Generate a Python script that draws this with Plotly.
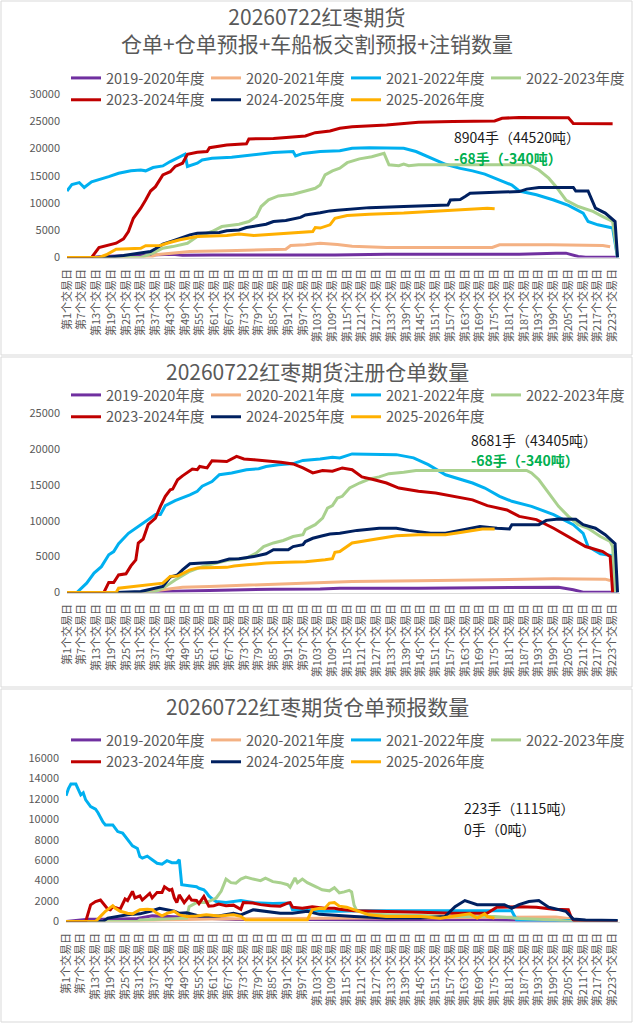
import plotly.graph_objects as go

# x axis: trading day index, one label every 6 days
tick_days = list(range(1, 224, 6))
tick_text = [f'第{d}个交易日' for d in tick_days]

seasons = ['2019-2020年度', '2020-2021年度', '2021-2022年度', '2022-2023年度',
           '2023-2024年度', '2024-2025年度', '2025-2026年度']
season_colors = ['#7030A0', '#F4B183', '#00B0F0', '#A9D18E', '#C00000', '#002060', '#FFB000']

# panel 1: 仓单+仓单预报+车船板交割预报+注销数量  (day, 手)
total_1920 = [(1, 0), (11, 0), (15, 200), (30, 400), (44, 610), (48, 400), (60, 480), (100, 480),
              (110, 450), (131, 610), (185, 610), (200, 780), (204, 800), (209, 200), (212, 60), (225, 50)]
total_2021 = [(1, 0), (35, 0), (37, 490), (46, 800), (51, 1100), (66, 1220), (90, 1530), (92, 2200),
              (98, 2320), (104, 2600), (111, 2400), (117, 2050), (131, 1830), (174, 1830), (177, 2320),
              (198, 2320), (219, 2200), (222, 1960)]
total_2122 = [(1, 12200), (3, 13400), (6, 13750), (8, 12850), (11, 13900), (14, 14250), (18, 14850),
              (22, 15450), (27, 15900), (31, 16050), (33, 15900), (36, 16500), (40, 16800), (43, 17600),
              (45, 18100), (49, 18950), (50, 16700), (54, 17300), (56, 17900), (60, 18200), (68, 18400),
              (74, 18700), (78, 18800), (85, 19250), (93, 19450), (94, 18650), (97, 19100), (104, 19450),
              (112, 19600), (117, 20050), (124, 20150), (138, 20050), (143, 19450), (148, 18500),
              (155, 17100), (161, 16350), (166, 15900), (171, 15300), (177, 14250), (182, 13300),
              (185, 12200), (192, 11500), (199, 10550), (205, 9550), (211, 8150), (213, 6600),
              (217, 6000), (223, 5400), (225, 0)]
total_2223 = [(1, 0), (31, 0), (36, 800), (40, 1700), (44, 2000), (50, 2600), (54, 3850), (60, 4770),
              (64, 5680), (71, 6110), (75, 6600), (78, 7520), (80, 9350), (83, 10570), (87, 11300),
              (93, 11600), (98, 12200), (102, 12700), (104, 13300), (106, 15150), (109, 15900),
              (112, 16400), (115, 17400), (120, 18100), (125, 18500), (130, 19100), (132, 17000),
              (136, 16850), (138, 17150), (140, 16850), (144, 17000), (189, 17000), (193, 16050),
              (197, 14550), (200, 13000), (204, 10550), (209, 9350), (215, 8450), (219, 7500),
              (223, 6600), (225, 0)]
total_2324 = [(1, 0), (11, 0), (14, 1830), (17, 2200), (21, 2630), (24, 3420), (26, 4770), (28, 7200),
              (31, 9050), (33, 10550), (35, 12200), (37, 13000), (40, 15150), (43, 15750), (45, 16700),
              (48, 17300), (50, 18950), (54, 19300), (58, 19450), (59, 20150), (66, 20650), (74, 20850),
              (75, 21750), (85, 21850), (93, 22200), (98, 22300), (102, 22900), (108, 23200),
              (112, 23700), (117, 24000), (131, 24300), (144, 24800), (158, 24950), (175, 25050),
              (178, 25550), (185, 25700), (205, 25650), (207, 24600), (223, 24550)]
total_2425 = [(1, 0), (17, 0), (24, 370), (31, 800), (35, 1100), (37, 1600), (40, 2450), (44, 3050),
              (48, 3650), (51, 4150), (54, 4450), (63, 4600), (66, 4900), (71, 5050), (74, 5500),
              (78, 5800), (82, 6100), (85, 6600), (90, 6800), (96, 7350), (98, 7800), (104, 8200),
              (108, 8550), (111, 8650), (124, 9150), (138, 9350), (151, 9650), (156, 9650),
              (157, 10550), (161, 10650), (163, 11200), (165, 11800), (178, 12000), (185, 12100),
              (188, 12550), (193, 12850), (207, 12850), (208, 12200), (213, 12200), (216, 9050),
              (220, 8150), (224, 6600), (225, 0)]
total_2526 = [(1, 0), (14, 0), (17, 500), (21, 1530), (31, 1700), (33, 2150), (39, 2200), (42, 2650),
              (47, 3250), (51, 3650), (54, 3850), (66, 4050), (71, 4300), (77, 4050), (85, 4300),
              (93, 4450), (101, 4770), (102, 5500), (104, 5400), (108, 6000), (110, 7200), (115, 7700),
              (124, 7950), (138, 8150), (151, 8450), (165, 8850), (172, 9050), (175, 8950)]

# panel 2: 注册仓单数量
reg_1920 = [(1, 0), (35, 0), (40, 150), (57, 280), (71, 370), (85, 460), (104, 500), (112, 600),
            (144, 600), (185, 700), (201, 740), (207, 370), (211, 50), (225, 50)]
reg_2021 = [(1, 0), (31, 0), (40, 370), (48, 740), (59, 840), (70, 980), (84, 1160), (98, 1300),
            (105, 1440), (112, 1440), (117, 1530), (144, 1630), (176, 1770), (199, 1910), (220, 1860),
            (222, 1670)]
reg_2122 = [(1, 0), (5, 0), (9, 1300), (12, 2700), (15, 3600), (18, 5250), (20, 5700), (22, 6800),
            (26, 8250), (29, 8950), (32, 9750), (37, 10850), (39, 10850), (41, 12100), (45, 12800),
            (48, 13150), (51, 13600), (54, 14100), (56, 14800), (60, 15450), (63, 16400), (68, 16650),
            (74, 17100), (79, 17250), (82, 17550), (87, 17800), (93, 17950), (97, 18400), (104, 18600),
            (109, 18850), (112, 18750), (117, 19300), (135, 19200), (142, 18750), (148, 17800),
            (155, 16400), (161, 15800), (166, 15250), (171, 14550), (177, 13400), (182, 12700),
            (190, 12000), (199, 10850), (207, 9450), (211, 8250), (213, 6400), (218, 5400),
            (223, 5100), (224, 0)]
reg_2223 = [(1, 0), (36, 0), (40, 600), (45, 1750), (51, 2950), (56, 3600), (66, 4450), (74, 4800),
            (78, 5500), (81, 6400), (85, 6900), (89, 7250), (93, 7800), (97, 8050), (98, 8750),
            (102, 9450), (105, 10350), (107, 11750), (109, 12100), (111, 13150), (113, 13400),
            (116, 14550), (120, 15250), (124, 15800), (128, 16100), (132, 16550), (138, 16750),
            (143, 17000), (188, 17000), (190, 16650), (193, 15700), (197, 13850), (201, 12000),
            (205, 10600), (209, 9450), (213, 8950), (218, 7800), (222, 7100), (223, 6400), (224, 0)]
reg_2324 = [(1, 0), (16, 0), (18, 1400), (20, 1400), (22, 2450), (25, 2600), (27, 3700), (29, 4550),
            (30, 6900), (32, 7450), (34, 9450), (37, 10350), (39, 12000), (41, 13400), (43, 14300),
            (44, 14400), (46, 15700), (48, 16250), (52, 17200), (54, 17100), (55, 17550), (58, 17350),
            (60, 18350), (66, 18250), (70, 18950), (73, 18600), (77, 18500), (82, 18350), (88, 18150),
            (93, 17900), (97, 17350), (101, 16650), (105, 17000), (109, 16900), (113, 17350),
            (117, 17100), (121, 16100), (126, 15700), (131, 15250), (136, 14550), (144, 14100),
            (151, 13850), (158, 13400), (166, 12900), (172, 12100), (180, 11500), (185, 10600),
            (192, 10150), (199, 8950), (207, 7350), (212, 6400), (219, 5700), (222, 5000), (223, 0)]
reg_2425 = [(1, 0), (21, 0), (31, 150), (35, 450), (40, 850), (43, 2150), (46, 2450), (48, 3150),
            (51, 4000), (56, 4100), (62, 4200), (67, 4650), (71, 4700), (77, 5000), (82, 5400),
            (85, 5950), (88, 6000), (91, 5950), (93, 6400), (97, 6650), (98, 7100), (101, 7550),
            (105, 7900), (108, 8150), (112, 8250), (119, 8650), (128, 8950), (135, 8950), (140, 8650),
            (149, 8250), (155, 8250), (161, 8650), (169, 9200), (176, 8950), (181, 8850), (182, 9450),
            (193, 9450), (196, 10050), (201, 10250), (208, 10200), (211, 9450), (216, 8950),
            (220, 8050), (224, 6800), (225, 0)]
reg_2526 = [(1, 0), (21, 0), (22, 600), (28, 850), (33, 1050), (36, 1200), (40, 1300), (43, 2250),
            (46, 2300), (51, 3150), (54, 3400), (66, 3500), (69, 3700), (74, 3850), (82, 4100),
            (90, 4200), (98, 4300), (106, 4550), (109, 4700), (110, 5600), (112, 5700), (117, 6900),
            (121, 7100), (128, 7550), (135, 7900), (144, 8050), (155, 8050), (161, 8350), (167, 8650),
            (170, 8850), (175, 8850)]

# panel 3: 仓单预报数量
fc_1920 = [(1, 0), (5, 100), (10, 230), (20, 230), (30, 300), (36, 550), (45, 450), (55, 300),
           (70, 200), (100, 200), (130, 150), (170, 160), (180, 100), (200, 50), (225, 50)]
fc_2021 = [(1, 0), (30, 0), (40, 150), (60, 250), (90, 300), (120, 350), (150, 350), (185, 450),
           (200, 450), (205, 300), (210, 100), (225, 100)]
fc_2122 = [(1, 12300), (2, 13000), (3, 13450), (5, 13450), (7, 12400), (8, 12600), (9, 11900),
           (11, 11250), (13, 11000), (14, 10650), (16, 9750), (17, 9450), (20, 9450), (22, 8800),
           (24, 8650), (26, 8000), (28, 7400), (30, 7150), (31, 6350), (32, 6200), (34, 6400),
           (36, 6050), (38, 5700), (40, 5600), (42, 5950), (44, 5750), (46, 5750), (47, 6050),
           (48, 3600), (51, 3500), (54, 3400), (55, 3250), (57, 3100), (58, 2850), (59, 2500),
           (61, 2100), (62, 1950), (66, 1850), (72, 2050), (77, 1850), (85, 1750), (92, 1800),
           (93, 1150), (99, 1150), (105, 1000), (112, 1000), (120, 1050), (150, 1050), (182, 1050),
           (184, 150), (200, 100), (225, 100)]
fc_2223 = [(1, 0), (30, 0), (31, 150), (50, 330), (51, 1450), (54, 1850), (58, 1850), (62, 2300),
           (64, 2950), (66, 4150), (68, 3800), (70, 3750), (72, 4150), (74, 4350), (77, 4150),
           (80, 4000), (82, 4250), (85, 3900), (88, 3800), (91, 3600), (92, 3350), (94, 4250),
           (95, 3800), (97, 4150), (99, 3800), (101, 3600), (103, 3350), (105, 3100), (108, 3000),
           (110, 3300), (112, 2800), (114, 2900), (116, 3050), (117, 2900), (118, 1600), (119, 1100),
           (125, 700), (140, 600), (160, 500), (175, 500), (185, 300), (200, 150), (206, 0), (225, 0)]
fc_2324 = [(1, 0), (9, 0), (11, 1630), (13, 1950), (15, 2100), (16, 1800), (18, 1200), (19, 1150),
           (20, 1450), (23, 1200), (25, 2200), (26, 2050), (28, 2950), (29, 2300), (31, 2500),
           (32, 2100), (35, 2750), (36, 2300), (38, 2850), (40, 2850), (41, 3400), (43, 3050),
           (44, 3150), (45, 2300), (46, 1850), (47, 2600), (49, 1850), (51, 2450), (52, 2100),
           (54, 2050), (55, 1750), (57, 2450), (59, 1500), (61, 1550), (63, 1700), (66, 1550),
           (69, 1600), (72, 1200), (73, 1850), (77, 1800), (80, 1650), (84, 1550), (88, 1500),
           (91, 1800), (92, 1850), (93, 1400), (97, 1300), (101, 1450), (106, 1300), (110, 1300),
           (112, 1200), (118, 1050), (131, 1000), (145, 900), (158, 800), (172, 800), (176, 1400),
           (185, 1450), (192, 1400), (199, 1200), (205, 1150), (206, 500), (207, 150), (208, 0),
           (225, 0)]
fc_2425 = [(1, 0), (16, 0), (18, 330), (22, 500), (26, 650), (31, 750), (34, 900), (36, 1050),
           (39, 1300), (42, 1150), (45, 1000), (47, 800), (50, 850), (55, 550), (63, 550), (69, 800),
           (72, 650), (77, 1150), (82, 1000), (88, 800), (93, 800), (99, 1000), (104, 700),
           (112, 550), (118, 500), (131, 350), (145, 350), (155, 500), (159, 1450), (163, 2050),
           (168, 1650), (179, 1650), (182, 1300), (185, 1650), (189, 1950), (193, 2050), (197, 1400),
           (204, 1000), (207, 250), (212, 150), (225, 100)]
fc_2526 = [(1, 0), (13, 0), (15, 500), (17, 1000), (20, 1550), (21, 1300), (23, 1000), (26, 800),
           (28, 750), (31, 1150), (34, 1200), (36, 1150), (38, 800), (40, 550), (42, 800), (45, 1000),
           (47, 650), (50, 500), (54, 550), (58, 650), (63, 550), (69, 650), (72, 500), (74, 150),
           (85, 150), (99, 150), (101, 1150), (104, 1300), (106, 1250), (108, 1800), (110, 1850),
           (112, 1500), (115, 1400), (118, 1150), (124, 650), (131, 500), (145, 500), (153, 330),
           (158, 500), (165, 750), (168, 330), (171, 750), (172, 500), (175, 330)]

W, H = 634, 1023
FONT = 'Noto Sans CJK SC'
GREY = '#595959'


def px_x(p):
    return p / W


def px_y(p):
    return 1 - p / H


panels = [
    dict(series=[total_1920, total_2021, total_2122, total_2223, total_2324, total_2425, total_2526],
         xdom=(67, 620), ytop=94, ybot=257.5, ymax=30000, dtick=5000,
         title='20260722红枣期货<br>仓单+仓单预报+车船板交割预报+注销数量', title_y=30,
         legend_y=62,
         notes=[('8904手（44520吨）', 452, 137, '#1a1a1a', False),
                ('-68手（-340吨）', 452, 158, '#00B050', True)]),
    dict(series=[reg_1920, reg_2021, reg_2122, reg_2223, reg_2324, reg_2425, reg_2526],
         xdom=(67, 620), ytop=413, ybot=592.5, ymax=25000, dtick=5000,
         title='20260722红枣期货注册仓单数量', title_y=371,
         legend_y=379,
         notes=[('8681手（43405吨）', 469, 440, '#1a1a1a', False),
                ('-68手（-340吨）', 469, 460, '#00B050', True)]),
    dict(series=[fc_1920, fc_2021, fc_2122, fc_2223, fc_2324, fc_2425, fc_2526],
         xdom=(66, 620), ytop=758, ybot=921.5, ymax=16000, dtick=2000,
         title='20260722红枣期货仓单预报数量', title_y=706,
         legend_y=724,
         notes=[('223手（1115吨）', 462, 808, '#1a1a1a', False),
                ('0手（0吨）', 462, 829, '#1a1a1a', False)]),
]

fig = go.Figure()
layout = dict(
    width=W, height=H,
    margin=dict(l=0, r=0, t=0, b=0, autoexpand=False),
    paper_bgcolor='white', plot_bgcolor='white',
    font=dict(family=FONT, color=GREY),
    showlegend=True,
    annotations=[], shapes=[],
)

# panel frames
for top, bot in [(1, 355), (357, 687), (689, 1022)]:
    layout['shapes'].append(dict(type='rect', xref='paper', yref='paper',
                                 x0=px_x(1), x1=px_x(632), y0=px_y(bot), y1=px_y(top),
                                 line=dict(color='#D9D9D9', width=1), layer='below'))

for i, p in enumerate(panels, start=1):
    sfx = '' if i == 1 else str(i)
    leg = 'legend' + sfx
    for name, color, s in zip(seasons, season_colors, p['series']):
        fig.add_trace(go.Scatter(
            x=[d for d, v in s], y=[v for d, v in s],
            mode='lines', name=name,
            line=dict(color=color, width=3),
            xaxis='x' + sfx, yaxis='y' + sfx, legend=leg,
        ))

    layout['xaxis' + sfx] = dict(
        domain=[px_x(p['xdom'][0]), px_x(p['xdom'][1])], anchor='y' + sfx,
        range=[1, 226], tickmode='array', tickvals=tick_days, ticktext=tick_text,
        tickangle=-90, tickfont=dict(size=11, color=GREY, family=FONT),
        showline=True, linecolor='#D9D9D9', linewidth=1,
        showgrid=False, zeroline=False, ticks='', automargin=False,
        ticklabelstandoff=6,
    )
    layout['yaxis' + sfx] = dict(
        domain=[px_y(p['ybot']), px_y(p['ytop'])], anchor='x' + sfx,
        range=[0, p['ymax']], dtick=p['dtick'], tickformat='d',
        tickfont=dict(size=11, color=GREY, family=FONT),
        showgrid=False, zeroline=False, showline=False, ticks='',
        ticklabelstandoff=6, automargin=False,
    )
    layout[leg] = dict(
        orientation='h', x=px_x(66), xanchor='left',
        y=px_y(p['legend_y']), yanchor='top',
        font=dict(size=14.5, color=GREY, family=FONT),
        entrywidth=95, entrywidthmode='pixels',
        bgcolor='rgba(0,0,0,0)', itemwidth=30, tracegroupgap=0,
    )
    layout['annotations'].append(dict(
        text=p['title'], xref='paper', yref='paper', x=0.5, y=px_y(p['title_y']),
        xanchor='center', yanchor='middle', showarrow=False,
        font=dict(size=21, color=GREY, family=FONT),
    ))
    for text, x, y, color, bold in p['notes']:
        layout['annotations'].append(dict(
            text='<b>' + text + '</b>' if bold else text,
            xref='paper', yref='paper', x=px_x(x), y=px_y(y),
            xanchor='left', yanchor='middle', showarrow=False,
            font=dict(size=14, color=color, family=FONT),
        ))

fig.update_layout(**layout)
# the page's default 8px body margin would push the chart off the window
fig.write_html('out.html', config={'displayModeBar': False},
               post_script="document.body.style.margin='0';")
